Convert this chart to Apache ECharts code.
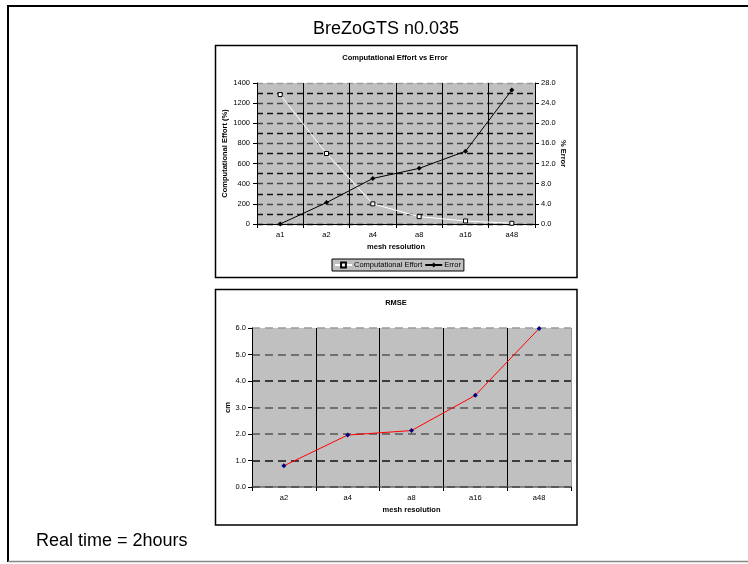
<!DOCTYPE html>
<html>
<head>
<meta charset="utf-8">
<script src="https://cdn.jsdelivr.net/npm/echarts@6/dist/echarts.min.js"></script>
<style>html,body{margin:0;padding:0;background:#fff}#c{width:748px;height:564px}</style>
</head>
<body>
<div id="c"></div>
<script>
var categories1 = ['a1', 'a2', 'a4', 'a8', 'a16', 'a48'];
var effortValues = [1285, 700, 200, 73, 30, 7];
var errorValues = [0, 4.25, 9.05, 11.05, 14.45, 26.6];
var categories2 = ['a2', 'a4', 'a8', 'a16', 'a48'];
var rmseValues = [0.80, 1.96, 2.13, 3.46, 5.98];
var mainTitle = 'BreZoGTS n0.035';
var chart1Title = 'Computational Effort vs Error';
var chart2Title = 'RMSE';
var footText = 'Real time = 2hours';

var FONT = '"Liberation Sans", Arial, sans-serif';
var small = {fontFamily: FONT, fontSize: 7.5, color: '#000'};
var smallBold = {fontFamily: FONT, fontSize: 7.5, color: '#000', fontWeight: 'bold'};

var chart = echarts.init(document.getElementById('c'), null, {renderer: 'canvas'});
chart.setOption({
  animation: false,
  backgroundColor: '#fff',
  graphic: [
    {type: 'line', shape: {x1: 7, y1: 6, x2: 760, y2: 6}, style: {stroke: '#000', lineWidth: 2}},
    {type: 'line', shape: {x1: 8, y1: 6, x2: 8, y2: 562}, style: {stroke: '#000', lineWidth: 2}},
    {type: 'line', shape: {x1: 8, y1: 561.5, x2: 760, y2: 561.5}, style: {stroke: '#888', lineWidth: 1.5}},
    {type: 'rect', shape: {x: 215.5, y: 45.5, width: 361.5, height: 232}, style: {fill: 'none', stroke: '#000', lineWidth: 1.5}, z: 100},
    {type: 'rect', shape: {x: 215.5, y: 289.5, width: 361.5, height: 235.5}, style: {fill: 'none', stroke: '#000', lineWidth: 1.5}, z: 100},
    {type: 'text', x: 386, y: 29, style: {text: mainTitle, font: '18px ' + FONT, fill: '#000', textAlign: 'center', textVerticalAlign: 'middle'}},
    {type: 'text', x: 395, y: 57.5, style: {text: chart1Title, font: 'bold 7.5px ' + FONT, fill: '#000', textAlign: 'center', textVerticalAlign: 'middle'}},
    {type: 'text', x: 396, y: 303, style: {text: chart2Title, font: 'bold 7.5px ' + FONT, fill: '#000', textAlign: 'center', textVerticalAlign: 'middle'}},
    {type: 'text', x: 36, y: 541, style: {text: footText, font: '18px ' + FONT, fill: '#000', textAlign: 'left', textVerticalAlign: 'middle'}}
  ],
  legend: {
    left: 332, top: 259,
    data: ['Computational Effort', 'Error'],
    backgroundColor: '#c0c0c0',
    borderColor: '#000', borderWidth: 1,
    padding: [2, 3, 2, 2],
    itemGap: 2, itemWidth: 17, itemHeight: 6,
    textStyle: {fontFamily: FONT, fontSize: 7.5, color: '#000', padding: [0, 0, 0, -3]}
  },
  grid: [
    {left: 257, right: 213, top: 83, bottom: 340, show: true, backgroundColor: '#c0c0c0', borderWidth: 0},
    {left: 252, right: 177, top: 328, bottom: 77, show: true, backgroundColor: '#c0c0c0', borderWidth: 0}
  ],
  xAxis: [
    {
      type: 'category', gridIndex: 0, data: categories1, boundaryGap: true,
      axisLine: {lineStyle: {color: '#000', width: 1}},
      axisTick: {show: true, length: 4, lineStyle: {color: '#000'}},
      axisLabel: Object.assign({margin: 7}, small),
      splitLine: {show: true, lineStyle: {color: '#000', width: 1}},
      name: 'mesh resolution', nameLocation: 'middle', nameGap: 19,
      nameTextStyle: smallBold
    },
    {
      type: 'category', gridIndex: 1, data: categories2, boundaryGap: true,
      axisLine: {lineStyle: {color: '#666', width: 1.5}},
      axisTick: {show: true, length: 4, lineStyle: {color: '#000'}},
      axisLabel: Object.assign({margin: 7}, small),
      splitLine: {show: true, lineStyle: {color: ['#000', '#000', '#000', '#000', '#000', '#999'], width: 1}},
      name: 'mesh resolution', nameLocation: 'middle', nameGap: 19,
      nameTextStyle: smallBold
    }
  ],
  yAxis: [
    {
      type: 'value', gridIndex: 0, min: 0, max: 1400, interval: 200,
      axisLine: {show: true, lineStyle: {color: '#000'}},
      axisTick: {show: true, length: 4, lineStyle: {color: '#000'}},
      axisLabel: Object.assign({margin: 7, formatter: function (v) { return String(v); }}, small),
      splitLine: {show: true, lineStyle: {type: [6, 4], width: 1.4, color: ['#000', '#444', '#444', '#444', '#444', '#444', '#444', '#999']}},
      minorTick: {show: false, splitNumber: 2},
      minorSplitLine: {show: true, lineStyle: {type: [6, 4], width: 1.4, color: '#111'}},
      name: 'Computational Effort (%)', nameLocation: 'middle', nameGap: 22, nameRotate: 90,
      nameTextStyle: smallBold
    },
    {
      type: 'value', gridIndex: 0, min: 0, max: 28, interval: 4, position: 'right',
      axisLine: {show: true, lineStyle: {color: '#000'}},
      axisTick: {show: true, length: 4, lineStyle: {color: '#000'}},
      axisLabel: Object.assign({margin: 6, formatter: function (v) { return v.toFixed(1); }}, small),
      splitLine: {show: false},
      name: '% Error', nameLocation: 'middle', nameGap: 24, nameRotate: 270,
      nameTextStyle: smallBold
    },
    {
      type: 'value', gridIndex: 1, min: 0, max: 6, interval: 1,
      axisLine: {show: true, lineStyle: {color: '#000'}},
      axisTick: {show: true, length: 4, lineStyle: {color: '#000'}},
      axisLabel: Object.assign({margin: 6, formatter: function (v) { return v.toFixed(1); }}, small),
      splitLine: {show: true, lineStyle: {type: [8, 5], width: 1.5, color: ['#000', '#111', '#555', '#555', '#111', '#555', '#999']}},
      name: 'cm', nameLocation: 'middle', nameGap: 20, nameRotate: 90,
      nameTextStyle: smallBold
    }
  ],
  series: [
    {
      name: 'Computational Effort', type: 'line', xAxisIndex: 0, yAxisIndex: 0,
      data: effortValues, symbol: 'rect', symbolSize: 4, showAllSymbol: true,
      lineStyle: {color: '#fff', width: 1},
      itemStyle: {color: '#fff', borderColor: '#000', borderWidth: 1},
      z: 3
    },
    {
      name: 'Error', type: 'line', xAxisIndex: 0, yAxisIndex: 1,
      data: errorValues, symbol: 'diamond', symbolSize: 5, showAllSymbol: true,
      lineStyle: {color: '#000', width: 1},
      itemStyle: {color: '#000'},
      z: 4
    },
    {
      name: 'RMSE', type: 'line', xAxisIndex: 1, yAxisIndex: 2,
      data: rmseValues, symbol: 'diamond', symbolSize: 5, showAllSymbol: true,
      lineStyle: {color: '#ff0000', width: 1},
      itemStyle: {color: '#000080'},
      z: 3
    }
  ]
});
</script>
</body>
</html>
